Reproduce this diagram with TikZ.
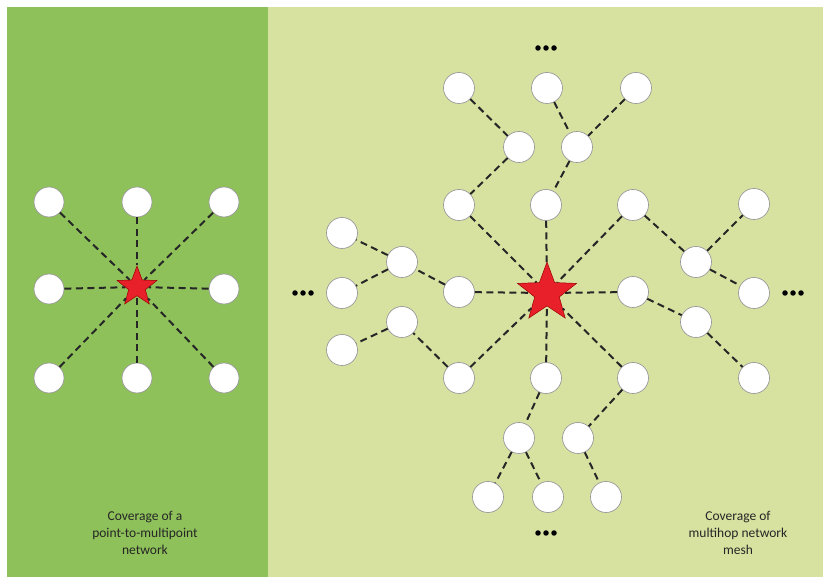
\documentclass[tikz,border=0pt]{standalone}
\usepackage{fontspec}
\setmainfont{Carlito}
\usetikzlibrary{shapes.geometric}
\definecolor{darkgreen}{RGB}{142,193,90}
\definecolor{lightgreen}{RGB}{215,226,161}
\definecolor{starred}{RGB}{232,32,42}
\tikzset{
  nd/.style={circle,draw=gray!80,line width=0.7pt,fill=white,minimum size=31pt,inner sep=0pt},
  ndl/.style={nd,minimum size=30pt},
  hub/.style={star,star points=5,star point ratio=2.4,fill=starred,draw=red!60!black,line width=0.5pt,inner sep=0pt},
  link/.style={draw=black!85,line width=2pt,dash pattern=on 7pt off 4.5pt},
  dotc/.style={circle,fill=black,inner sep=0pt,minimum size=5.5pt},
  lbl/.style={align=center,font=\fontsize{13.5}{17}\selectfont,text=black!85}
}
\begin{document}
\begin{tikzpicture}[x=1pt,y=-1pt]
\useasboundingbox (0,0) rectangle (823,577);
\fill[white] (0,0) rectangle (823,577);
\fill[darkgreen] (7,7) rectangle (268,577);
\fill[lightgreen] (268,7) rectangle (823,577);

% left panel
\node[hub,minimum size=42pt] (s1) at (137,287) {};
\foreach \n/\x/\y in {a1/49/202,a2/137/202,a3/224/202,a4/49/289,a5/224/289,a6/49/378,a7/137/378,a8/224/378}{
  \node[ndl] (\n) at (\x,\y) {};
  \draw[link] (\n) -- (s1);
}

% right panel
\node[hub,minimum size=62pt] (s2) at (547,293) {};
\foreach \n/\x/\y in {r1/459/205,r2/546/205,r3/633/205,r4/459/292,r5/633/292,r6/459/378,r7/546/378,r8/633/378}{
  \node[nd] (\n) at (\x,\y) {};
  \draw[link] (\n) -- (s2);
}
% top branch
\node[nd] (t1) at (459,88) {};
\node[nd] (t2) at (547,88) {};
\node[nd] (t3) at (636,88) {};
\node[nd] (t4) at (519,147) {};
\node[nd] (t5) at (577,147) {};
\draw[link] (t1) -- (t4);
\draw[link] (t4) -- (r1);
\draw[link] (t2) -- (t5);
\draw[link] (t3) -- (t5);
\draw[link] (t5) -- (r2);
% left branch
\node[nd] (l1) at (342,233) {};
\node[nd] (l2) at (402,262) {};
\node[nd] (l3) at (342,293) {};
\node[nd] (l4) at (402,322) {};
\node[nd] (l5) at (342,350) {};
\draw[link] (r4) -- (l2);
\draw[link] (l2) -- (l1);
\draw[link] (l2) -- (l3);
\draw[link] (r6) -- (l4);
\draw[link] (l4) -- (l5);
% right branch
\node[nd] (e1) at (754,204) {};
\node[nd] (e2) at (696,262) {};
\node[nd] (e3) at (754,293) {};
\node[nd] (e4) at (696,322) {};
\node[nd] (e5) at (754,378) {};
\draw[link] (r3) -- (e2);
\draw[link] (e2) -- (e1);
\draw[link] (e2) -- (e3);
\draw[link] (r5) -- (e4);
\draw[link] (e4) -- (e5);
% bottom branch
\node[nd] (b1) at (519,438) {};
\node[nd] (b2) at (578,438) {};
\node[nd] (b3) at (488,497) {};
\node[nd] (b4) at (548,497) {};
\node[nd] (b5) at (606,497) {};
\draw[link] (r7) -- (b1);
\draw[link] (b1) -- (b3);
\draw[link] (b1) -- (b4);
\draw[link] (r8) -- (b2);
\draw[link] (b2) -- (b5);

% ellipses
\foreach \cx/\cy/\k in {546/48/u,546/533/d,303/293/w,793/293/o}{
  \node[dotc] (\k1) at (\cx-8,\cy) {};
  \node[dotc] (\k2) at (\cx,\cy) {};
  \node[dotc] (\k3) at (\cx+8,\cy) {};
}

% labels
\node[lbl] (lt1) at (145,533) {Coverage of a\\point-to-multipoint\\network};
\node[lbl] (lt2) at (738,533) {Coverage of\\multihop network\\mesh};
\end{tikzpicture}
\end{document}
